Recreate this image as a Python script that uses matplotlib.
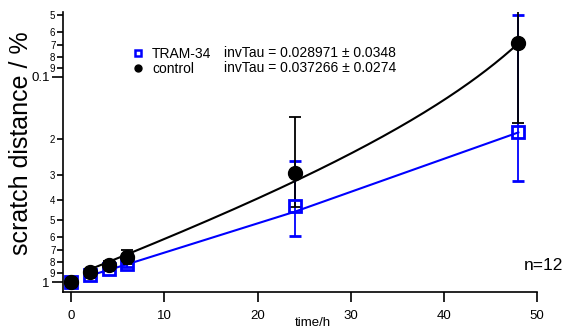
import numpy as np
import matplotlib
matplotlib.use("Agg")
import matplotlib.pyplot as plt
from matplotlib.ticker import FixedLocator, FixedFormatter
from matplotlib.lines import Line2D

plt.rcParams['font.family'] = ['Liberation Sans', 'DejaVu Sans']

# data (relative scratch distance)
time_h = [0, 2, 4, 6, 24, 48]
tram_mean = [1.0, 0.925, 0.86, 0.82, 0.425, 0.185]
tram_err = [0.0, 0.015, 0.015, 0.02, 0.168, 0.135]
ctrl_mean = [1.0, 0.89, 0.826, 0.755, 0.293, 0.068]
ctrl_err = [0.0, 0.03, 0.04, 0.057, 0.136, 0.10]

# exponential fits y0 + A*exp(-invTau*t), fitted from t = 2 h
tram_y0, tram_A, tram_invtau, tram_sd = -0.08, 1.07, 0.028971, 0.0348
ctrl_y0, ctrl_A, ctrl_invtau, ctrl_sd = -0.107, 1.05, 0.037266, 0.0274

# y axis tick values / labels
major_ticks = [1.0, 0.1]
major_labels = ['1', '0.1']
minor_ticks = [0.9, 0.8, 0.7, 0.6, 0.5, 0.4, 0.3, 0.2, 0.09, 0.08, 0.07, 0.06, 0.05]
minor_labels = ['9', '8', '7', '6', '5', '4', '3', '2', '9', '8', '7', '6', '5']
x_ticks = [0, 10, 20, 30, 40, 50]

blue = '#0000ff'

fig = plt.figure(figsize=(5.7, 3.28), dpi=100)
ax = fig.add_axes([63 / 570, 1 - 291.5 / 328, 474 / 570, 279.5 / 328])

ax.set_yscale('log')

# fit curves
t_tram = np.array(time_h[1:])
ax.plot(t_tram, tram_y0 + tram_A * np.exp(-tram_invtau * t_tram), color=blue, lw=1.5)
t_ctrl = np.linspace(2, 48, 200)
ax.plot(t_ctrl, ctrl_y0 + ctrl_A * np.exp(-ctrl_invtau * t_ctrl), color='black', lw=1.5)

ax.errorbar(time_h, tram_mean, yerr=tram_err, fmt='s', ms=9, mfc='none', mec=blue, mew=2,
            ecolor=blue, elinewidth=1.3, capsize=4, capthick=1.3)
ax.errorbar(time_h, ctrl_mean, yerr=ctrl_err, fmt='o', ms=10, color='black',
            ecolor='black', elinewidth=1.3, capsize=4, capthick=1.3)

ax.set_xlim(-0.89, 50)
ax.set_ylim(1.112, 0.0482)

ax.xaxis.set_major_locator(FixedLocator(x_ticks))
ax.xaxis.set_minor_locator(FixedLocator([]))
ax.yaxis.set_major_locator(FixedLocator(major_ticks))
ax.yaxis.set_major_formatter(FixedFormatter(major_labels))
ax.yaxis.set_minor_locator(FixedLocator(minor_ticks))
ax.yaxis.set_minor_formatter(FixedFormatter(minor_labels))

ax.tick_params(axis='x', direction='out', length=7, width=1.2, labelsize=9.5, pad=6.5)
ax.tick_params(axis='y', which='major', direction='out', length=8, width=1.2, labelsize=9.5, pad=1.5)
ax.tick_params(axis='y', which='minor', direction='out', length=4.5, width=1.2, labelsize=7, pad=1)

for s in ['top', 'right']:
    ax.spines[s].set_visible(False)
for s in ['left', 'bottom']:
    ax.spines[s].set_linewidth(1.2)

fig.text(21 / 570, 1 - 143 / 328, 'scratch distance / %', rotation=90,
         ha='center', va='center', fontsize=18)
fig.text(313 / 570, 1 - 323 / 328, 'time/h', ha='center', va='center', fontsize=9.5)
fig.text(563 / 570, 1 - 265 / 328, 'n=12', ha='right', va='center', fontsize=12.5)

handles = [Line2D([], [], marker='s', ls='none', ms=4.5, mfc='none', mec=blue, mew=1.8),
           Line2D([], [], marker='o', ls='none', ms=5, color='black')]
fig.legend(handles, ['TRAM-34', 'control'], loc='upper left',
           bbox_to_anchor=(131.4 / 570, 1 - 47 / 328), bbox_transform=fig.transFigure,
           frameon=False, fontsize=10, handlelength=1.0, handletextpad=0.5,
           borderpad=0, borderaxespad=0, labelspacing=0.05)
fig.text(224 / 570, 1 - 53 / 328, f'invTau = {tram_invtau} \u00b1 {tram_sd}',
         ha='left', va='center', fontsize=10)
fig.text(224 / 570, 1 - 67.5 / 328, f'invTau = {ctrl_invtau} \u00b1 {ctrl_sd}',
         ha='left', va='center', fontsize=10)

fig.savefig('out.png', dpi=100)
